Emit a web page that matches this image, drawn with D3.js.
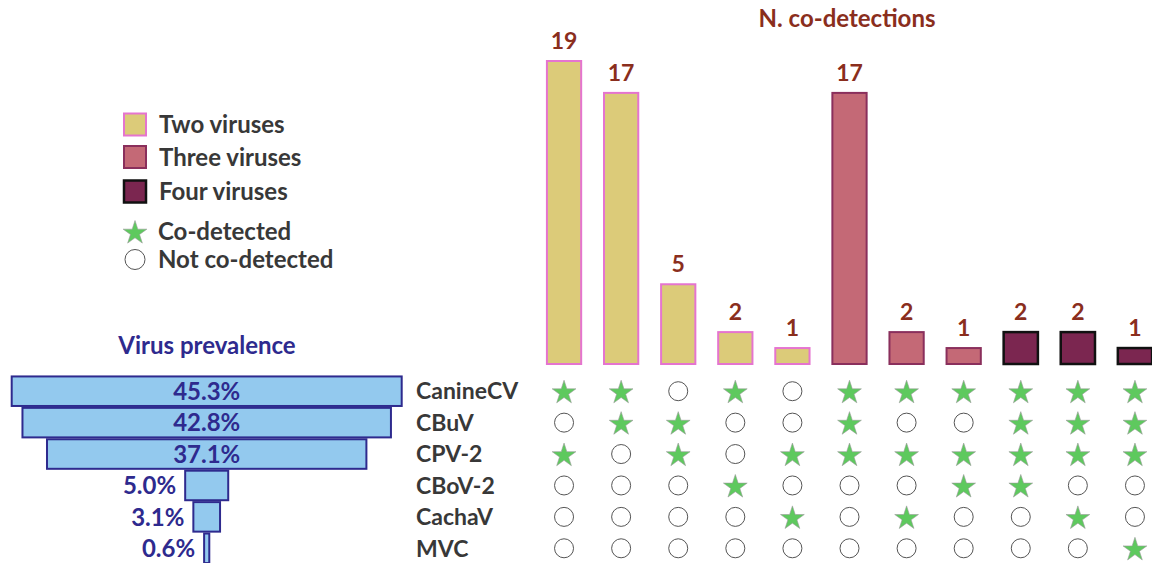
<!DOCTYPE html>
<html>
<head>
<meta charset="utf-8">
<script src="https://cdn.jsdelivr.net/npm/d3@7"></script>
<style>
  html, body { margin: 0; padding: 0; background: #fff; }
  svg { display: block; font-family: Lato, "Open Sans", sans-serif; font-weight: 700; }
</style>
</head>
<body>
<svg id="chart" width="1152" height="563"></svg>
<script>
// Viruses, in matrix row order, and their prevalence (%)
const viruses = ["CanineCV", "CBuV", "CPV-2", "CBoV-2", "CachaV", "MVC"];
const prevalence = [45.3, 42.8, 37.1, 5.0, 3.1, 0.6];

// Co-detection combinations: count and number of viruses involved
const combos = ["c1", "c2", "c3", "c4", "c5", "c6", "c7", "c8", "c9", "c10", "c11"];
const counts = [19, 17, 5, 2, 1, 17, 2, 1, 2, 2, 1];
const nViruses = [2, 2, 2, 2, 2, 3, 3, 3, 4, 4, 4];

// Membership matrix: rows = viruses, columns = combinations (1 = co-detected)
const membership = [
  [1, 1, 0, 1, 0, 1, 1, 1, 1, 1, 1],
  [0, 1, 1, 0, 0, 1, 0, 0, 1, 1, 1],
  [1, 0, 1, 0, 1, 1, 1, 1, 1, 1, 1],
  [0, 0, 0, 1, 0, 0, 0, 1, 1, 0, 0],
  [0, 0, 0, 0, 1, 0, 1, 0, 0, 1, 0],
  [0, 0, 0, 0, 0, 0, 0, 0, 0, 0, 1]
];

const groupLabels = ["Two viruses", "Three viruses", "Four viruses"];
const groupKeys = [2, 3, 4];

const fillOf = d3.scaleOrdinal().domain(groupKeys).range(["#dccb79", "#c46976", "#7b2650"]);
const strokeOf = d3.scaleOrdinal().domain(groupKeys).range(["#e574cf", "#8a2f5c", "#111111"]);
const strokeWOf = d3.scaleOrdinal().domain(groupKeys).range([2, 2, 2.5]);

const titleRed = "#8a2e1d";
const navy = "#2e2a8e";
const textGray = "#383838";
const starGreen = "#5ec95e";

const svg = d3.select("#chart");

// Shared scales
const xCol = d3.scaleBand().domain(combos).range([535.5, 1163.5]).paddingInner(0.4).paddingOuter(0.2);
const yRow = d3.scaleBand().domain(viruses).range([375.5, 564]).paddingInner(0.06).paddingOuter(0.03);
const yCount = d3.scaleLinear().domain([0, 19]).range([364, 61]);

// ---- Co-detection bars ----
const bars = svg.append("g");
bars.selectAll("rect").data(combos).join("rect")
  .attr("x", d => xCol(d))
  .attr("width", xCol.bandwidth())
  .attr("y", (d, i) => yCount(counts[i]))
  .attr("height", (d, i) => yCount(0) - yCount(counts[i]))
  .attr("fill", (d, i) => fillOf(nViruses[i]))
  .attr("stroke", (d, i) => strokeOf(nViruses[i]))
  .attr("stroke-width", (d, i) => strokeWOf(nViruses[i]));

bars.selectAll("text").data(combos).join("text")
  .attr("x", d => xCol(d) + xCol.bandwidth() / 2)
  .attr("y", (d, i) => yCount(counts[i]) - 12)
  .attr("text-anchor", "middle")
  .attr("fill", titleRed)
  .attr("font-size", 23)
  .text((d, i) => counts[i]);

svg.append("text")
  .attr("x", 847).attr("y", 27)
  .attr("text-anchor", "middle")
  .attr("fill", titleRed)
  .attr("font-size", 24)
  .text("N. co-detections");

// ---- Membership matrix ----
const star = d3.symbol().type(d3.symbolStar).size(175);
const cells = [];
membership.forEach((row, r) => row.forEach((v, c) => cells.push({ r, c, v })));

const matrix = svg.append("g");
matrix.selectAll("g.cell").data(cells).join("g")
  .attr("class", "cell")
  .attr("transform", d => `translate(${xCol(combos[d.c]) + xCol.bandwidth() / 2},${yRow(viruses[d.r]) + yRow.bandwidth() / 2})`)
  .each(function (d) {
    const g = d3.select(this);
    if (d.v) {
      g.append("path").attr("d", star).attr("transform", "translate(0,1.5)")
        .attr("fill", starGreen).attr("stroke", "#9a9a9a").attr("stroke-width", 0.6);
    } else {
      g.append("circle").attr("r", 9.5)
        .attr("fill", "#fff").attr("stroke", "#555").attr("stroke-width", 1);
    }
  });

// Row labels
svg.append("g").selectAll("text").data(viruses).join("text")
  .attr("x", 416)
  .attr("y", d => yRow(d) + yRow.bandwidth() / 2)
  .attr("dy", "0.36em")
  .attr("fill", textGray)
  .attr("font-size", 23)
  .text(d => d);

// ---- Prevalence funnel ----
const funnelCx = 206.7;
const xPrev = d3.scaleLinear().domain([0, 45.3]).range([0, 390]);

const funnel = svg.append("g");
funnel.selectAll("rect").data(viruses).join("rect")
  .attr("x", (d, i) => funnelCx - xPrev(prevalence[i]) / 2)
  .attr("width", (d, i) => xPrev(prevalence[i]))
  .attr("y", d => yRow(d))
  .attr("height", yRow.bandwidth())
  .attr("fill", "#93c9ee")
  .attr("stroke", navy)
  .attr("stroke-width", 2);

funnel.selectAll("text").data(viruses).join("text")
  .attr("x", (d, i) => {
    const w = xPrev(prevalence[i]);
    return w > 100 ? funnelCx : funnelCx - w / 2 - 9;
  })
  .attr("y", d => yRow(d) + yRow.bandwidth() / 2)
  .attr("dy", "0.36em")
  .attr("text-anchor", (d, i) => xPrev(prevalence[i]) > 100 ? "middle" : "end")
  .attr("fill", navy)
  .attr("font-size", 24)
  .text((d, i) => prevalence[i].toFixed(1) + "%");

svg.append("text")
  .attr("x", 207).attr("y", 354)
  .attr("text-anchor", "middle")
  .attr("fill", navy)
  .attr("font-size", 24)
  .text("Virus prevalence");

// ---- Legend ----
const legend = svg.append("g");
const legY = d3.scaleOrdinal().domain(groupKeys).range([124.5, 157, 191.5]);
legend.selectAll("rect").data(groupKeys).join("rect")
  .attr("x", 124).attr("y", d => legY(d) - 11)
  .attr("width", 22).attr("height", 22)
  .attr("fill", d => fillOf(d))
  .attr("stroke", d => strokeOf(d))
  .attr("stroke-width", d => strokeWOf(d));
legend.selectAll("text.grp").data(groupKeys).join("text")
  .attr("class", "grp")
  .attr("x", 159).attr("y", d => legY(d))
  .attr("dy", "0.36em")
  .attr("fill", textGray)
  .attr("font-size", 24)
  .text((d, i) => groupLabels[i]);

legend.append("path").attr("d", star)
  .attr("transform", "translate(135,233)")
  .attr("fill", starGreen).attr("stroke", "#9a9a9a").attr("stroke-width", 0.6);
legend.append("circle").attr("cx", 135).attr("cy", 259.5).attr("r", 10)
  .attr("fill", "#fff").attr("stroke", "#555").attr("stroke-width", 1);
legend.append("text").attr("x", 158).attr("y", 231.5).attr("dy", "0.36em")
  .attr("fill", textGray).attr("font-size", 24).text("Co-detected");
legend.append("text").attr("x", 158).attr("y", 259.5).attr("dy", "0.36em")
  .attr("fill", textGray).attr("font-size", 24).text("Not co-detected");
</script>
</body>
</html>
